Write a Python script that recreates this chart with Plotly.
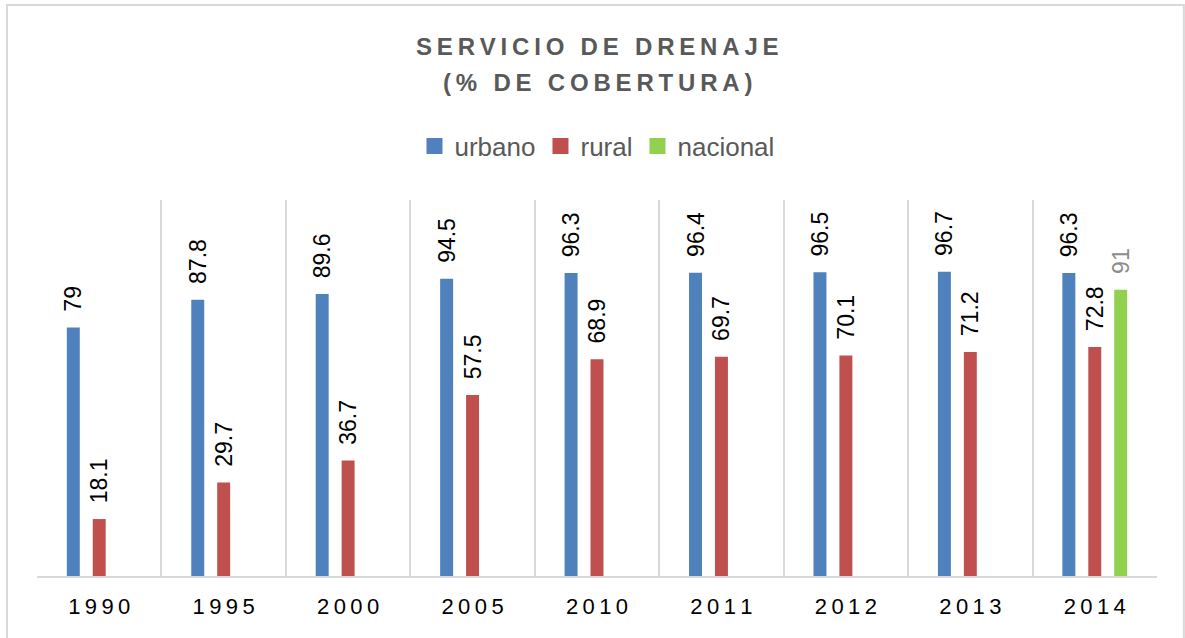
import plotly.graph_objects as go

years = ["1990", "1995", "2000", "2005", "2010", "2011", "2012", "2013", "2014"]
urbano = [79, 87.8, 89.6, 94.5, 96.3, 96.4, 96.5, 96.7, 96.3]
rural = [18.1, 29.7, 36.7, 57.5, 68.9, 69.7, 70.1, 71.2, 72.8]
nacional = [None, None, None, None, None, None, None, None, 91]
title_lines = ["SERVICIO DE DRENAJE", "(% DE COBERTURA)"]

TS = "\u2009"
def spaced(s):
    return TS.join(list(s))

FONT = "Liberation Sans, Arial, sans-serif"
PAD = "\u00a0\u00a0"

fig = go.Figure()
series = [
    ("urbano", urbano, "#4F81BD", "#000000"),
    ("rural", rural, "#C0504D", "#000000"),
    ("nacional", nacional, "#92D050", "#8C8C8C"),
]
for name, vals, col, tcol in series:
    fig.add_trace(go.Bar(
        x=years, y=vals, name=name, showlegend=False,
        marker=dict(color=col, line=dict(width=0)),
        text=[PAD + (f"{v:g}") if v is not None else "" for v in vals],
        textposition="outside", textangle=-90, constraintext="none",
        textfont=dict(family=FONT, size=23, color=tcol),
        cliponaxis=False,
    ))
# legend entries with larger square swatches
for name, vals, col, tcol in series:
    fig.add_trace(go.Scatter(
        x=[None], y=[None], mode="markers", name=name,
        marker=dict(symbol="square", size=16, color=col),
    ))

plot_top, plot_bottom = 200, 576
ph = plot_bottom - plot_top
def py(px):
    return (plot_bottom - px) / ph

annotations = []
for i, line in enumerate(title_lines):
    annotations.append(dict(
        text=spaced(line), xref="paper", yref="paper", x=0.5, y=py(46 + 36 * i),
        xanchor="center", yanchor="middle", showarrow=False,
        font=dict(family=FONT, size=24, color="#595959", weight="bold"),
    ))

fig.update_layout(
    width=1185, height=638,
    barmode="group", bargap=0.375, bargroupgap=0.5,
    paper_bgcolor="white", plot_bgcolor="white",
    margin=dict(l=37, r=28, t=plot_top, b=638 - plot_bottom),
    annotations=annotations,
    legend=dict(
        orientation="h", x=0.5, xanchor="center", y=py(146), yanchor="middle",
        font=dict(family=FONT, size=26, color="#595959"),
        itemwidth=30, tracegroupgap=0, itemsizing="trace",
    ),
    showlegend=True,
    xaxis=dict(
        type="category", tickson="boundaries", showgrid=True, gridcolor="#D9D9D9", gridwidth=1.5,
        showline=True, linecolor="#D9D9D9", linewidth=1.5, ticks="",
        tickvals=years, ticktext=[spaced(y) for y in years],
        tickfont=dict(family=FONT, size=22, color="#000000"),
        ticklabelstandoff=10,
    ),
    yaxis=dict(range=[0, 119.5], visible=False, showgrid=False),
    shapes=[dict(type="rect", xref="paper", yref="paper",
                 x0=-0.0268, x1=1.024, y0=-0.2, y1=py(5),
                 line=dict(color="#D9D9D9", width=2), fillcolor="rgba(0,0,0,0)", layer="below")],
)

fig.write_html("out.html", config={"displayModeBar": False},
               post_script="document.body.style.margin='0';document.body.style.overflow='hidden';")
